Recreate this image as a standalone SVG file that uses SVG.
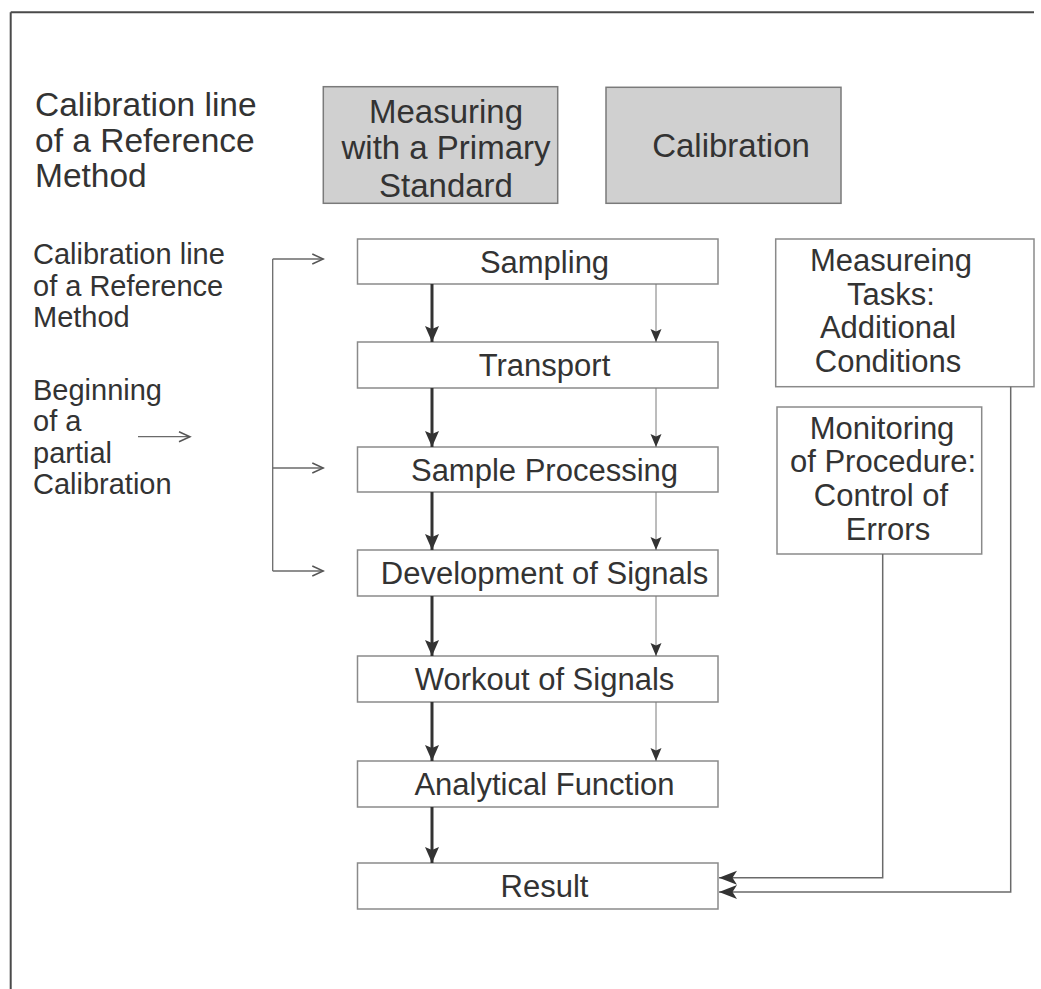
<svg xmlns="http://www.w3.org/2000/svg" width="1041" height="989" viewBox="0 0 1041 989">
  <style>
    text { font-family: "Liberation Sans", Arial, sans-serif; fill: #333333; }
    .big { font-size: 33.5px; }
    .lbl { font-size: 29px; }
    .box-t { font-size: 31px; text-anchor: middle; }
    .gbox { fill: #d0d0d0; stroke: #7a7a7a; stroke-width: 1.5; }
    .wbox { fill: #ffffff; stroke: #8a8a8a; stroke-width: 1.5; }
    .frame { stroke: #4a4a4a; stroke-width: 2; fill: none; }
    .thick { stroke: #333333; stroke-width: 3; fill: none; }
    .thin { stroke: #7a7a7a; stroke-width: 1; fill: none; }
    .brk { stroke: #6a6a6a; stroke-width: 1.3; fill: none; }
    .ret { stroke: #6a6a6a; stroke-width: 1.5; fill: none; }
  </style>
  <defs>
    <marker id="headThick" markerUnits="userSpaceOnUse" markerWidth="16" markerHeight="15" refX="16" refY="7.5" orient="auto" viewBox="0 0 16 15">
      <path d="M0,0.5 L16,7.5 L0,14.5 L3,7.5 z" fill="#333333"/>
    </marker>
    <marker id="headThin" markerUnits="userSpaceOnUse" markerWidth="13" markerHeight="12" refX="13" refY="6" orient="auto" viewBox="0 0 13 12">
      <path d="M0,0.5 L13,6 L0,11.5 L2.5,6 z" fill="#333333"/>
    </marker>
    <marker id="headOpen" markerUnits="userSpaceOnUse" markerWidth="14" markerHeight="14" refX="12" refY="7" orient="auto" viewBox="0 0 14 14">
      <path d="M1,2 L12,7 L1,12" fill="none" stroke="#555555" stroke-width="1.5"/>
    </marker>
    <marker id="headBack" markerUnits="userSpaceOnUse" markerWidth="18" markerHeight="15" refX="18" refY="7.5" orient="auto" viewBox="0 0 18 15">
      <path d="M0,0.5 L18,7.5 L0,14.5 L4.5,7.5 z" fill="#333333"/>
    </marker>
  </defs>

  <!-- page frame -->
  <g id="frame">
    <line class="frame" x1="10.7" y1="12.3" x2="1034" y2="12.3"/>
    <line class="frame" x1="10.7" y1="12.3" x2="10.7" y2="989"/>
  </g>

  <!-- side captions -->
  <g id="caption-top">
    <text class="big" x="35" y="116">Calibration line</text>
    <text class="big" x="35" y="151.5">of a Reference</text>
    <text class="big" x="35" y="187">Method</text>
  </g>
  <g id="caption-ref">
    <text class="lbl" x="33" y="263.5">Calibration line</text>
    <text class="lbl" x="33" y="295.5">of a Reference</text>
    <text class="lbl" x="33" y="327">Method</text>
  </g>
  <g id="caption-partial">
    <text class="lbl" x="33" y="399.5">Beginning</text>
    <text class="lbl" x="33" y="431">of a</text>
    <text class="lbl" x="33" y="462.5">partial</text>
    <text class="lbl" x="33" y="494">Calibration</text>
    <line class="brk" x1="138" y1="436.7" x2="190" y2="436.7" marker-end="url(#headOpen)"/>
  </g>

  <!-- shaded header boxes -->
  <g id="primary-standard">
    <rect class="gbox" x="323.3" y="86.7" width="234.4" height="116.6"/>
    <text class="box-t" style="font-size:33px" x="446" y="122.7">Measuring</text>
    <text class="box-t" style="font-size:33px" x="446" y="159">with a Primary</text>
    <text class="box-t" style="font-size:33px" x="446" y="196.5">Standard</text>
  </g>
  <g id="calibration">
    <rect class="gbox" x="606" y="87.3" width="235" height="116"/>
    <text class="box-t" style="font-size:33px" x="731" y="157">Calibration</text>
  </g>

  <!-- main process chain -->
  <g id="sampling">
    <rect class="wbox" x="357.5" y="239" width="360.5" height="45"/>
    <text class="box-t" x="544.5" y="272.5">Sampling</text>
  </g>
  <g id="transport">
    <rect class="wbox" x="357.5" y="342" width="360.5" height="46"/>
    <text class="box-t" x="544.5" y="376">Transport</text>
  </g>
  <g id="sample-processing">
    <rect class="wbox" x="357.5" y="447" width="360.5" height="45"/>
    <text class="box-t" x="544.5" y="480.5">Sample Processing</text>
  </g>
  <g id="development">
    <rect class="wbox" x="357.5" y="550" width="360.5" height="46"/>
    <text class="box-t" x="544.5" y="584">Development of Signals</text>
  </g>
  <g id="workout">
    <rect class="wbox" x="357.5" y="656" width="360.5" height="46"/>
    <text class="box-t" x="544.5" y="690">Workout of Signals</text>
  </g>
  <g id="analytical-function">
    <rect class="wbox" x="357.5" y="761" width="360.5" height="46"/>
    <text class="box-t" x="544.5" y="795">Analytical Function</text>
  </g>
  <g id="result">
    <rect class="wbox" x="357.5" y="863" width="360.5" height="46"/>
    <text class="box-t" x="544.5" y="897">Result</text>
  </g>

  <!-- supervision boxes -->
  <g id="measuring-tasks">
    <rect class="wbox" x="775.7" y="239" width="258.3" height="147.7"/>
    <text class="box-t" x="891" y="271">Measureing</text>
    <text class="box-t" x="891" y="304.5">Tasks:</text>
    <text class="box-t" x="888" y="338">Additional</text>
    <text class="box-t" x="888" y="371.5">Conditions</text>
  </g>
  <g id="monitoring">
    <rect class="wbox" x="777" y="407" width="204.7" height="147"/>
    <text class="box-t" x="882" y="438.5">Monitoring</text>
    <text class="box-t" x="883" y="472">of Procedure:</text>
    <text class="box-t" x="881" y="505.5">Control of</text>
    <text class="box-t" x="888" y="540">Errors</text>
  </g>

  <!-- connectors -->
  <g id="connectors">
    <!-- entry bracket for partial calibrations -->
    <line class="brk" x1="272.7" y1="259" x2="272.7" y2="571"/>
    <line class="brk" x1="272.7" y1="259" x2="323.3" y2="259" marker-end="url(#headOpen)"/>
    <line class="brk" x1="272.7" y1="468" x2="323.3" y2="468" marker-end="url(#headOpen)"/>
    <line class="brk" x1="272.7" y1="571" x2="323.3" y2="571" marker-end="url(#headOpen)"/>

    <!-- main flow (left, heavy) -->
    <line class="thick" x1="432" y1="284" x2="432" y2="342" marker-end="url(#headThick)"/>
    <line class="thick" x1="432" y1="388" x2="432" y2="447" marker-end="url(#headThick)"/>
    <line class="thick" x1="432" y1="492" x2="432" y2="550" marker-end="url(#headThick)"/>
    <line class="thick" x1="432" y1="596" x2="432" y2="656" marker-end="url(#headThick)"/>
    <line class="thick" x1="432" y1="702" x2="432" y2="761" marker-end="url(#headThick)"/>
    <line class="thick" x1="432" y1="807" x2="432" y2="863" marker-end="url(#headThick)"/>

    <!-- parallel flow (right, light) -->
    <line class="thin" x1="656" y1="284" x2="656" y2="342" marker-end="url(#headThin)"/>
    <line class="thin" x1="656" y1="388" x2="656" y2="447" marker-end="url(#headThin)"/>
    <line class="thin" x1="656" y1="492" x2="656" y2="550" marker-end="url(#headThin)"/>
    <line class="thin" x1="656" y1="596" x2="656" y2="656" marker-end="url(#headThin)"/>
    <line class="thin" x1="656" y1="702" x2="656" y2="761" marker-end="url(#headThin)"/>

    <!-- feedback into the result -->
    <polyline class="ret" points="882.7,554 882.7,877.7 719,877.7" marker-end="url(#headBack)"/>
    <polyline class="ret" points="1010.7,386.7 1010.7,892 719,892" marker-end="url(#headBack)"/>
  </g>
</svg>
